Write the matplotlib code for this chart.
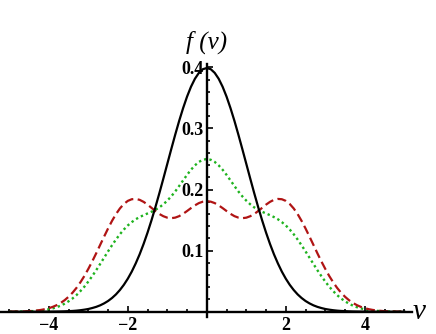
import numpy as np
import matplotlib
matplotlib.use("Agg")
import matplotlib.pyplot as plt

# values, v = -5 .. 5 in steps of 0.1
v = np.round(np.arange(-5.0, 5.0001, 0.1), 1)

# v = 0, 0.1, ..., 5.0 (curves are symmetric about v = 0)
half_black = [0.3989, 0.3970, 0.3910, 0.3814, 0.3683, 0.3521, 0.3332, 0.3123, 0.2897, 0.2661,
              0.2420, 0.2179, 0.1942, 0.1714, 0.1497, 0.1295, 0.1109, 0.0940, 0.0790, 0.0656,
              0.0540, 0.0440, 0.0355, 0.0283, 0.0224, 0.0175, 0.0136, 0.0104, 0.0079, 0.0060,
              0.0044, 0.0033, 0.0024, 0.0017, 0.0012, 0.0009, 0.0006, 0.0004, 0.0003, 0.0002,
              0.0001, 0.0001, 0.0, 0.0, 0.0, 0.0, 0.0, 0.0, 0.0, 0.0, 0.0]
half_red = [0.1810, 0.1801, 0.1778, 0.1741, 0.1696, 0.1648, 0.1602, 0.1564, 0.1540, 0.1531,
            0.1539, 0.1563, 0.1599, 0.1647, 0.1700, 0.1753, 0.1798, 0.1831, 0.1846, 0.1841,
            0.1814, 0.1763, 0.1690, 0.1597, 0.1486, 0.1362, 0.1229, 0.1093, 0.0956, 0.0824,
            0.0700, 0.0584, 0.0481, 0.0389, 0.0310, 0.0244, 0.0188, 0.0143, 0.0107, 0.0079,
            0.0057, 0.0041, 0.0029, 0.0020, 0.0014, 0.0009, 0.0006, 0.0004, 0.0003, 0.0002,
            0.0001]
half_green = [0.2499, 0.2487, 0.2452, 0.2396, 0.2324, 0.2240, 0.2149, 0.2057, 0.1968, 0.1888,
              0.1818, 0.1758, 0.1708, 0.1669, 0.1636, 0.1608, 0.1580, 0.1549, 0.1513, 0.1466,
              0.1412, 0.1345, 0.1268, 0.1181, 0.1087, 0.0987, 0.0884, 0.0781, 0.0679, 0.0583,
              0.0493, 0.0409, 0.0337, 0.0271, 0.0216, 0.0170, 0.0131, 0.0099, 0.0074, 0.0054,
              0.0039, 0.0028, 0.0020, 0.0014, 0.0010, 0.0006, 0.0004, 0.0003, 0.0002, 0.0001,
              0.0001]

f_black = half_black[:0:-1] + half_black
f_red = half_red[:0:-1] + half_red
f_green = half_green[:0:-1] + half_green

x_ticks = [-4, -2, 2, 4]
x_labels = ["\u22124", "\u22122", "2", "4"]
y_ticks = [0.1, 0.2, 0.3, 0.4]
y_labels = ["0.1", "0.2", "0.3", "0.4"]

W, H = 436, 334
fig = plt.figure(figsize=(W / 100, H / 100), dpi=100)
ax = fig.add_axes([0, 17.3 / H, 412 / W, 252.4 / H])

ax.plot(v, f_black, color="black", lw=1.6, zorder=3)
ax.plot(v, f_green, color="#1fb31f", lw=1.7, dashes=(1, 1.3), zorder=2)
ax.plot(v, f_red, color="#b01414", lw=1.6, dashes=(4, 2), zorder=2)

ax.set_xlim(-206.8 / 39.5, (412 - 206.8) / 39.5)
ax.set_ylim(-0.0082, 0.405)

for side in ["top", "right"]:
    ax.spines[side].set_visible(False)
ax.spines["left"].set_position(("data", 0))
ax.spines["bottom"].set_position(("data", 0))
ax.spines["left"].set_linewidth(1.7)
ax.spines["bottom"].set_linewidth(1.7)
ax.patch.set_visible(False)

ax.set_xticks(x_ticks)
ax.set_xticklabels(x_labels)
ax.set_xticks(np.arange(-5, 5.01, 0.5), minor=True)
ax.set_yticks(y_ticks)
ax.set_yticklabels(y_labels)
ax.set_yticks(np.arange(0.02, 0.401, 0.02), minor=True)

ax.tick_params(which="major", direction="in", length=4, width=1.2)
ax.tick_params(which="minor", direction="in", length=2.5, width=1.2)
ax.tick_params(axis="x", which="major", pad=4)
ax.tick_params(axis="y", which="major", pad=2.5)

for lab in ax.get_xticklabels() + ax.get_yticklabels():
    lab.set_fontfamily("Liberation Serif")
    lab.set_fontweight("bold")
    lab.set_fontsize(13)

fig.text(207 / W, 1 - 42 / H, "f (v)", family="Liberation Serif", style="italic",
         fontsize=18, ha="center", va="center")
fig.text(413 / W, 1 - 312 / H, "v", family="Liberation Serif", style="italic",
         fontsize=21, ha="left", va="center")

plt.savefig("out.png", dpi=100)
